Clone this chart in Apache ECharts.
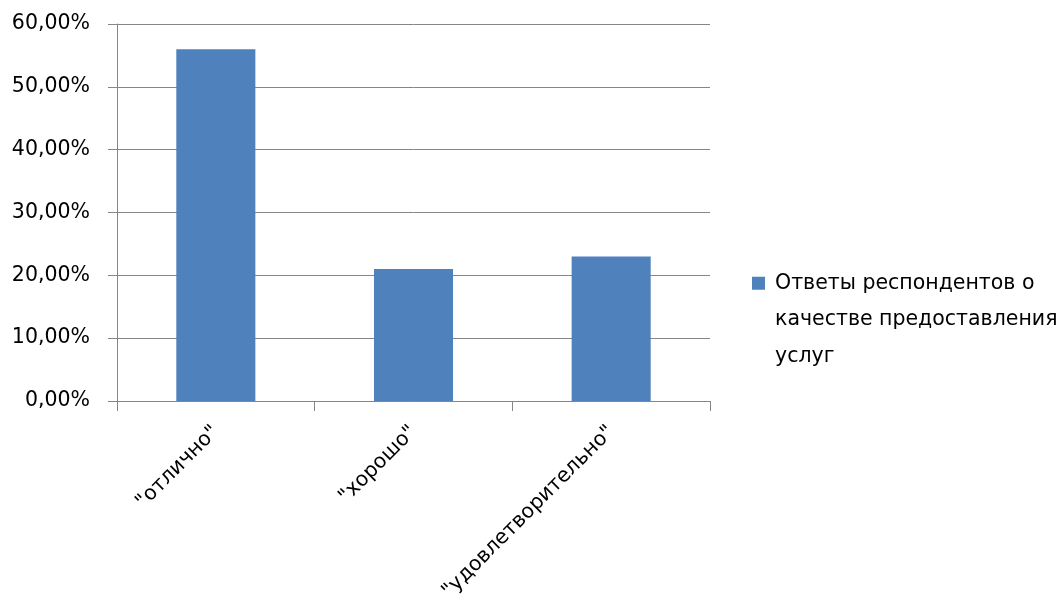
<!DOCTYPE html>
<html>
<head>
<meta charset="utf-8">
<script src="https://cdn.jsdelivr.net/npm/echarts@6/dist/echarts.min.js"></script>
<style>
  html, body { margin: 0; padding: 0; background: #fff; }
  #chart { width: 1061px; height: 600px; }
</style>
</head>
<body>
<div id="chart"></div>
<script>
// Survey answers on service quality, in percent
const categories = ['"отлично"', '"хорошо"', '"удовлетворительно"'];
const values = [56, 21, 23];
const seriesName = 'Ответы респондентов о\nкачестве предоставления\nуслуг';

const FONT = 'DejaVu Sans';
const FS = 20.5;
const GRAY = '#868686';
const LINE_H = 36.5;

// Legend marker: a 13px square next to the first text line, inside a box
// as tall as the three-line label (the extra moveTo points set its extent).
const LEG_H = LINE_H * 3;
const LEG_W = 18;
const sqTop = LINE_H / 2 - 6.5;
const legendIcon = 'path://M0,0 M' + LEG_W + ',' + LEG_H +
  ' M0,' + sqTop + ' L13,' + sqTop + ' L13,' + (sqTop + 13) + ' L0,' + (sqTop + 13) + ' Z';

const chart = echarts.init(document.getElementById('chart'));
chart.setOption({
  animation: false,
  textStyle: { fontFamily: FONT },
  grid: {
    left: 117, right: 351, top: 24, bottom: 199,
    containLabel: false,
    outerBoundsMode: 'none'
  },
  legend: {
    left: 752,
    top: 265,
    padding: 0,
    orient: 'vertical',
    itemWidth: LEG_W,
    itemHeight: LEG_H,
    itemGap: 0,
    textStyle: {
      fontFamily: FONT,
      fontSize: FS,
      color: '#000',
      lineHeight: LINE_H
    },
    data: [{ name: seriesName, icon: legendIcon }]
  },
  xAxis: {
    type: 'category',
    data: categories,
    axisLine: { lineStyle: { color: GRAY, width: 1 } },
    axisTick: { show: true, length: 10, lineStyle: { color: GRAY } },
    axisLabel: {
      rotate: 45,
      margin: 28,
      fontFamily: FONT,
      fontSize: FS,
      color: '#000',
      interval: 0
    },
    splitLine: { show: false }
  },
  yAxis: {
    type: 'value',
    min: 0,
    max: 60,
    interval: 10,
    axisLine: { show: true, lineStyle: { color: GRAY, width: 1 } },
    axisTick: { show: true, length: 9, lineStyle: { color: GRAY } },
    axisLabel: {
      margin: 27,
      fontFamily: FONT,
      fontSize: FS,
      color: '#000',
      formatter: v => v.toFixed(2).replace('.', ',') + '%'
    },
    splitLine: { show: true, lineStyle: { color: GRAY, width: 1 } }
  },
  series: [{
    name: seriesName,
    type: 'bar',
    data: values,
    barWidth: '40%',
    itemStyle: { color: '#4F81BD' }
  }]
});
</script>
</body>
</html>
